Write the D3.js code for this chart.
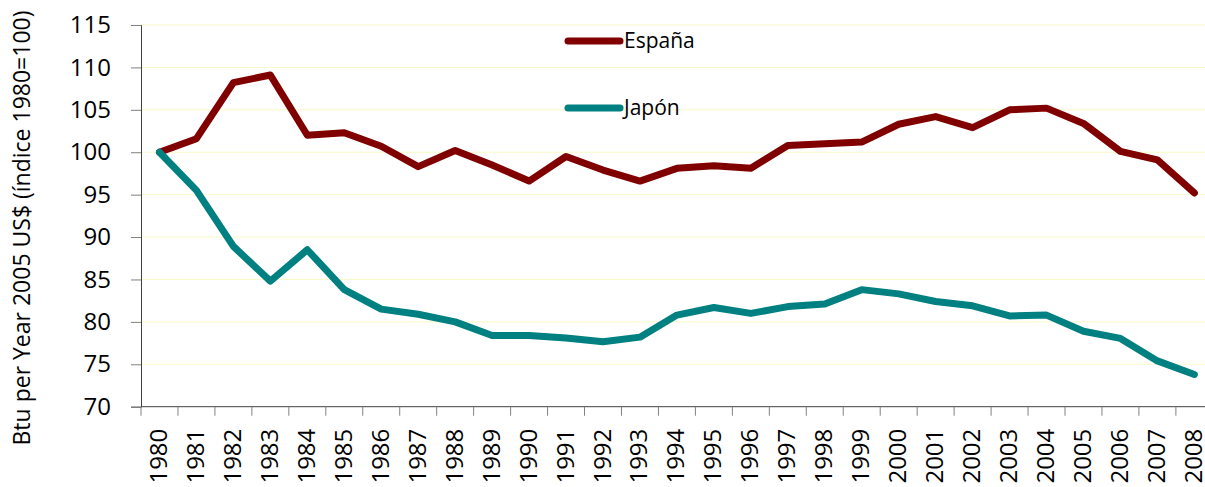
<!DOCTYPE html>
<html>
<head>
<meta charset="utf-8">
<script src="https://cdn.jsdelivr.net/npm/d3@7"></script>
<style>
  body { margin: 0; background: #fff; }
  svg { display: block; font-family: "Open Sans", sans-serif; }
</style>
</head>
<body>
<svg id="chart"></svg>
<script>
// data
const years = ["1980","1981","1982","1983","1984","1985","1986","1987","1988","1989",
  "1990","1991","1992","1993","1994","1995","1996","1997","1998","1999",
  "2000","2001","2002","2003","2004","2005","2006","2007","2008"];
const espana = [100, 101.6, 108.2, 109.1, 102.0, 102.3, 100.7, 98.3, 100.2, 98.5,
  96.6, 99.5, 97.9, 96.6, 98.1, 98.4, 98.1, 100.8, 101.0, 101.2,
  103.3, 104.2, 102.9, 105.0, 105.2, 103.4, 100.1, 99.1, 95.2];
const japon = [100, 95.5, 88.9, 84.8, 88.5, 83.8, 81.5, 80.9, 80.0, 78.4,
  78.4, 78.1, 77.65, 78.2, 80.8, 81.7, 81.0, 81.8, 82.1, 83.8,
  83.3, 82.4, 81.9, 80.7, 80.8, 78.9, 78.05, 75.4, 73.8];
const yTicks = [70, 75, 80, 85, 90, 95, 100, 105, 110, 115];
const seriesNames = ["España", "Japón"];
const seriesColors = ["#800000", "#008080"];

const width = 1205;
const height = 487;
const plotLeft = 141, plotTop = 25, plotBottom = 406.7;
const band = 36.96;

const svg = d3.select("#chart")
  .attr("width", width)
  .attr("height", height);

const x = d3.scaleBand()
  .domain(years)
  .range([plotLeft, plotLeft + band * years.length])
  .paddingInner(0).paddingOuter(0);

const y = d3.scaleLinear()
  .domain([70, 115])
  .range([plotBottom, plotTop]);

// gridlines
svg.append("g")
  .selectAll("line")
  .data(yTicks.filter(d => d > 70))
  .enter()
  .append("line")
  .attr("x1", plotLeft)
  .attr("x2", plotLeft + band * years.length)
  .attr("y1", d => y(d))
  .attr("y2", d => y(d))
  .attr("stroke", "#f8f8c8")
  .attr("stroke-width", 1);

// y axis
const yAxis = d3.axisLeft(y)
  .tickValues(yTicks)
  .tickSize(10)
  .tickPadding(20);
svg.append("g")
  .attr("transform", "translate(" + plotLeft + ",0)")
  .call(yAxis)
  .call(g => g.select(".domain").attr("stroke", "#404040"))
  .call(g => g.selectAll(".tick line").attr("stroke", "#808080"))
  .call(g => g.selectAll(".tick text")
    .attr("font-size", "24px")
    .attr("fill", "#000")
    .attr("font-family", "Open Sans, sans-serif"));

// x axis, ticks on band edges
svg.append("g")
  .attr("transform", "translate(0," + plotBottom + ")")
  .call(g => g.append("line")
    .attr("x1", plotLeft).attr("x2", plotLeft + band * years.length)
    .attr("stroke", "#404040"))
  .call(g => g.selectAll(".xt")
    .data(years)
    .enter()
    .append("line")
    .attr("class", "xt")
    .attr("x1", d => x(d)).attr("x2", d => x(d))
    .attr("y1", 0).attr("y2", 9)
    .attr("stroke", "#808080"))
  .call(g => g.selectAll(".xl")
    .data(years)
    .enter()
    .append("text")
    .attr("class", "xl")
    .attr("transform", d => "translate(" + (x(d) + x.bandwidth() / 2 + 7.5) + ",22) rotate(-90)")
    .attr("text-anchor", "end")
    .attr("font-size", "24px")
    .attr("fill", "#000")
    .text(d => d));

// y axis title
svg.append("text")
  .attr("transform", "translate(30,228) rotate(-90)")
  .attr("text-anchor", "middle")
  .attr("font-size", "23px")
  .attr("fill", "#000")
  .text("Btu per Year 2005 US$ (índice 1980=100)");

// lines
const line = d3.line()
  .x((d, i) => x(years[i]) + x.bandwidth() / 2)
  .y(d => y(d));

[espana, japon].forEach((vals, k) => {
  svg.append("path")
    .datum(vals)
    .attr("fill", "none")
    .attr("stroke", seriesColors[k])
    .attr("stroke-width", 7)
    .attr("stroke-linejoin", "round")
    .attr("stroke-linecap", "round")
    .attr("d", line);
});

// legend
const legendY = [41, 108];
seriesNames.forEach((name, k) => {
  svg.append("line")
    .attr("x1", 568).attr("x2", 620)
    .attr("y1", legendY[k]).attr("y2", legendY[k])
    .attr("stroke", seriesColors[k])
    .attr("stroke-width", 7)
    .attr("stroke-linecap", "round");
  svg.append("text")
    .attr("x", 624)
    .attr("y", legendY[k] + 7)
    .attr("font-size", "21px")
    .attr("fill", "#000")
    .text(name);
});
</script>
</body>
</html>
